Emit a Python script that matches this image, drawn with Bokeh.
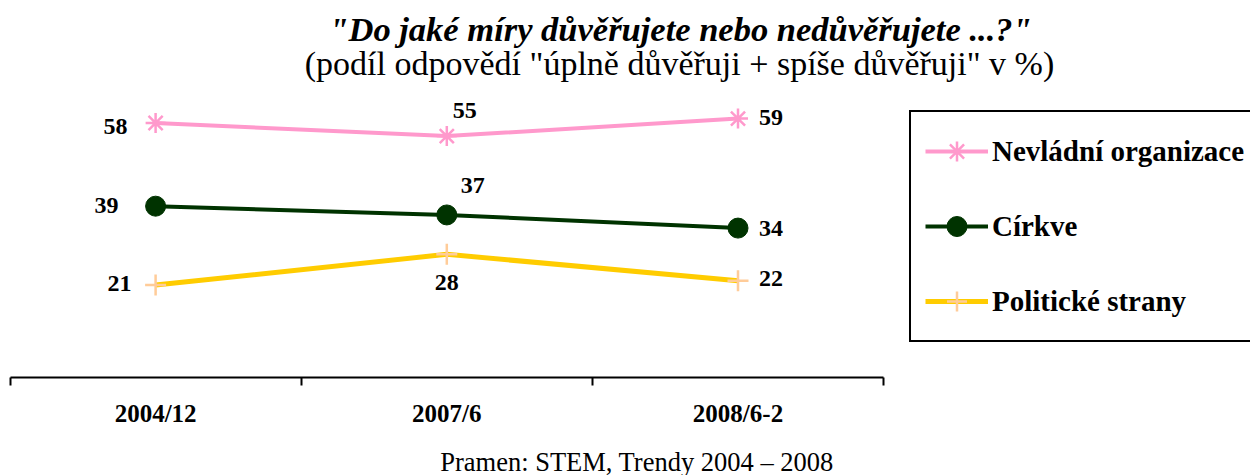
from bokeh.plotting import figure
from bokeh.models import (ColumnDataSource, Range1d, FixedTicker, LinearAxis,
                          Legend, LegendItem, Label)
from bokeh.core.properties import value
from bokeh.embed import file_html
from bokeh.resources import INLINE

# ---------------- data ----------------
categories = ["2004/12", "2007/6", "2008/6-2"]
series_names = ["Nevládní organizace", "Církve", "Politické strany"]
ngo = [58, 55, 59]
churches = [39, 37, 34]
parties = [21, 28, 22]

title_text = '"Do jaké míry důvěřujete nebo nedůvěřujete ...?"'
subtitle_text = '(podíl odpovědí "úplně důvěřuji + spíše důvěřuji" v %)'
source_text = "Pramen: STEM, Trendy 2004 – 2008"

# ---------------- layout / style ----------------
W, H = 1250, 475
X0, PX_X = 9.5, 291.2     # screen x of category-axis start, px per category
Y0, PX_Y = 376.5, 4.38    # screen y of value 0, px per percentage point
FONT = "Liberation Serif"

def dx(sx):  # screen x -> data x
    return (sx - X0) / PX_X

def dy(sy):  # screen y -> data y
    return (Y0 - sy) / PX_Y

xs = [i + 0.5 for i in range(len(categories))]
bounds = list(range(len(categories) + 1))

p = figure(width=W, height=H, output_backend="svg", toolbar_location=None,
           x_range=Range1d(dx(0), dx(W)), y_range=Range1d(dy(H), dy(0)),
           x_axis_type=None, y_axis_type=None,
           min_border=0, min_border_left=0, min_border_right=0,
           min_border_top=0, min_border_bottom=0)
p.outline_line_color = None
p.background_fill_color = "white"
p.border_fill_color = "white"

ax = LinearAxis(ticker=FixedTicker(ticks=xs, minor_ticks=bounds),
                bounds=(0, len(categories)), fixed_location=0,
                major_label_overrides={x: c for x, c in zip(xs, categories)})
ax.axis_line_color = "black"
ax.axis_line_width = 2
ax.major_tick_line_color = None
ax.major_tick_in = 0
ax.major_tick_out = 0
ax.minor_tick_line_color = "black"
ax.minor_tick_line_width = 2
ax.minor_tick_in = 0
ax.minor_tick_out = 8
ax.major_label_text_font = FONT
ax.major_label_text_font_style = "bold"
ax.major_label_text_font_size = "25px"
ax.major_label_text_color = "black"
ax.major_label_standoff = 15
p.add_layout(ax, "below")

series = [
    dict(vals=ngo, color="#FF99CC", marker="asterisk", mcolor="#FF99CC", msize=20, lw=4,
         offs=[(-40, 4), (18, -26), (33, -1)]),
    dict(vals=churches, color="#003300", marker="circle", mcolor="#003300", msize=20, lw=4,
         offs=[(-49, -1), (26, -29), (33, 0)]),
    dict(vals=parties, color="#FFCC00", marker="cross", mcolor="#FFCC99", msize=21, lw=5,
         offs=[(-36, -2), (0, 28), (33, -2)]),
]

items = []
for name, s in zip(series_names, series):
    src = ColumnDataSource(dict(x=xs, y=s["vals"], text=[str(v) for v in s["vals"]],
                                dx=[o[0] for o in s["offs"]], dy=[o[1] for o in s["offs"]]))
    lr = p.line("x", "y", source=src, line_color=s["color"], line_width=s["lw"])
    if s["marker"] == "circle":
        mr = p.scatter("x", "y", source=src, marker="circle", size=s["msize"],
                       fill_color=s["mcolor"], line_color=s["mcolor"])
    else:
        mr = p.scatter("x", "y", source=src, marker=s["marker"], size=s["msize"],
                       line_color=s["mcolor"], line_width=2.5)
    p.text("x", "y", text="text", x_offset="dx", y_offset="dy", source=src,
           text_font=value(FONT), text_font_style="bold", text_font_size="24px",
           text_color="black", text_align="center", text_baseline="middle")
    items.append(LegendItem(label=name, renderers=[lr, mr]))

legend = Legend(items=items, location=(909, H - 342), orientation="vertical",
                label_text_font=FONT, label_text_font_style="bold",
                label_text_font_size="29px", label_text_color="black",
                glyph_width=63, glyph_height=50, label_height=50,
                spacing=25, padding=14, label_standoff=4, margin=0,
                border_line_color="black", border_line_width=2, border_line_alpha=1,
                background_fill_color="white", background_fill_alpha=1)
p.add_layout(legend)

# text centres (middle baseline)
p.add_layout(Label(x=dx(680), y=dy(28), text=title_text,
                   text_align="center", text_baseline="middle", text_font=FONT,
                   text_font_style="bold italic", text_font_size="34.5px", text_color="black"))
p.add_layout(Label(x=dx(679), y=dy(63), text=subtitle_text,
                   text_align="center", text_baseline="middle", text_font=FONT,
                   text_font_style="normal", text_font_size="34px", text_color="black"))
p.add_layout(Label(x=dx(636.5), y=dy(461), text=source_text,
                   text_align="center", text_baseline="middle", text_font=FONT,
                   text_font_style="normal", text_font_size="26.5px", text_color="black"))

open("out.html", "w").write(file_html(p, INLINE))
